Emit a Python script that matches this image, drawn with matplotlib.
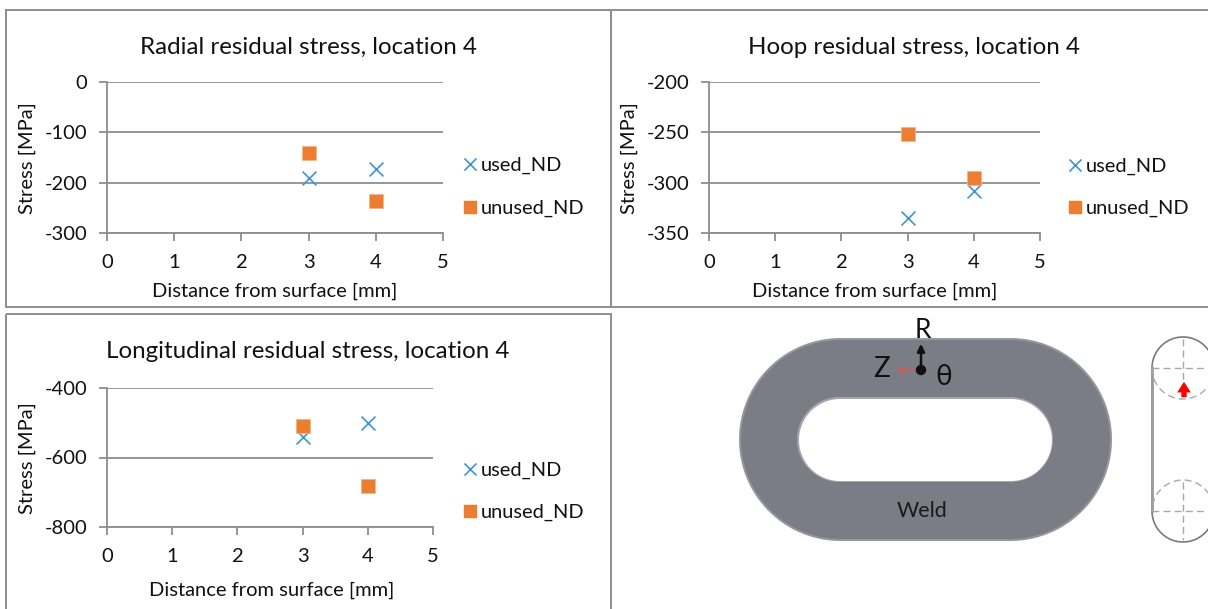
#!/usr/bin/env python

import matplotlib
matplotlib.use("Agg")
import matplotlib.pyplot as plt
import numpy as np
from matplotlib.patches import Polygon, Rectangle, Circle

plt.rcParams['font.family'] = ['Lato', 'DejaVu Sans']
plt.rcParams['axes.unicode_minus'] = False

W, H = 1208, 609
GREY = '#8e8e8e'
BLUE = '#3f94d2'
ORANGE = '#ed7d31'

distance = [3, 4]

radial_used = [-190, -172]
radial_unused = [-142, -237]
radial_ticks = [0, -100, -200, -300]

hoop_used = [-335, -308]
hoop_unused = [-252, -295]
hoop_ticks = [-200, -250, -300, -350]

long_used = [-540, -500]
long_unused = [-510, -683]
long_ticks = [-400, -600, -800]

x_ticks = [0, 1, 2, 3, 4, 5]
series_names = ['used_ND', 'unused_ND']


def make_axes(left, right, top, bottom):
    # pixel box to figure fractions
    return fig.add_axes([left / W, 1 - bottom / H, (right - left) / W, (bottom - top) / H])


def panel(box, used, unused, yticks, title, title_xy, ylabel_x, xlabel_xy, legend_x, legend_y):
    ax = make_axes(*box)
    ax.set_xlim(0, 5)
    ax.set_ylim(yticks[-1], yticks[0])
    ax.set_xticks(x_ticks)
    ax.set_yticks(yticks)
    ax.grid(True, axis='y', color=GREY, lw=1.3)
    ax.set_axisbelow(True)
    for side in ['top', 'right']:
        ax.spines[side].set_visible(False)
    for side in ['left', 'bottom']:
        ax.spines[side].set_color(GREY)
        ax.spines[side].set_linewidth(1.3)
    ax.tick_params(colors='#111111', color=GREY, width=1.3, length=6, labelsize=14.5)
    ax.tick_params(axis='x', pad=9)
    ax.tick_params(axis='y', pad=8)

    ax.scatter(distance, used, marker='x', s=100, color=BLUE, linewidth=1.2, zorder=3, clip_on=False)
    ax.scatter(distance, unused, marker='s', s=100, color=ORANGE, edgecolor='#f6b48a',
               linewidth=0.6, zorder=3, clip_on=False)

    bg.text(title_xy[0], title_xy[1], title, fontsize=17.4, ha='center', va='center', color='#111111')
    bg.text(ylabel_x, (box[2] + box[3]) / 2 + 1, 'Stress [MPa]', fontsize=14.5, rotation=90,
            ha='center', va='center', color='#111111')
    bg.text(xlabel_xy[0], xlabel_xy[1], 'Distance from surface [mm]', fontsize=14.5,
            ha='center', va='center', color='#111111')

    bg.scatter([legend_x], [legend_y[0]], marker='x', s=75, color=BLUE, linewidth=1.2)
    bg.scatter([legend_x], [legend_y[1]], marker='s', s=72, color=ORANGE)
    for name, y in zip(series_names, legend_y):
        bg.text(legend_x + 11, y + 1, name, fontsize=14.4, ha='left', va='center', color='#111111')


fig = plt.figure(figsize=(W / 100, H / 100), dpi=100)

# background layer in image pixels, holds frames, labels and the weld drawing
bg = fig.add_axes([0, 0, 1, 1])
bg.set_xlim(0, W)
bg.set_ylim(H, 0)
bg.axis('off')

for x0, y0, x1, y1 in [(6, 10, 611, 307), (611, 10, 1220, 307), (6, 314, 611, 620)]:
    bg.add_patch(Rectangle((x0, y0), x1 - x0, y1 - y0, fill=False, edgecolor=GREY, lw=1.4))

panel((107, 443, 82, 233), radial_used, radial_unused, radial_ticks,
      'Radial residual stress, location 4', (308, 47), 27, (275, 291), 470, (164, 207))
panel((709, 1040, 82, 233), hoop_used, hoop_unused, hoop_ticks,
      'Hoop residual stress, location 4', (914, 47), 629, (875, 291), 1075, (165, 207))
panel((107, 433, 388, 527), long_used, long_unused, long_ticks,
      'Longitudinal residual stress, location 4', (308, 351), 27, (272, 590), 470, (469, 511))


def stadium(x0, y0, x1, y1, **kw):
    # pill outline with true half circles, along the longer side of the box
    r = min(x1 - x0, y1 - y0) / 2
    t = np.linspace(0, np.pi, 60)
    if x1 - x0 >= y1 - y0:
        xs = np.r_[x1 - r + r * np.sin(t), x0 + r - r * np.sin(t)]
        ys = np.r_[y0 + r - r * np.cos(t), y1 - r + r * np.cos(t)]
    else:
        xs = np.r_[x0 + r - r * np.cos(t), x1 - r + r * np.cos(t)]
        ys = np.r_[y0 + r - r * np.sin(t), y1 - r + r * np.sin(t)]
    bg.add_patch(Polygon(np.c_[xs, ys], closed=True, **kw))


# weld ring
stadium(739, 338, 1112, 541, facecolor='#95969e', edgecolor='none')
stadium(741, 340, 1110, 539, facecolor='#7b7d86', edgecolor='none')
stadium(797, 397, 1053, 482, facecolor='#a5a6ac', edgecolor='none')
stadium(799, 399, 1052, 481, facecolor='white', edgecolor='none')

# coordinate marker on the weld
bg.annotate('', xy=(921, 341), xytext=(921, 371),
            arrowprops=dict(arrowstyle='-|>', color='#111111', lw=1.8, mutation_scale=11))
bg.annotate('', xy=(893, 370), xytext=(921, 370),
            arrowprops=dict(arrowstyle='-|>', color='#c9605c', lw=1.5, mutation_scale=9))
bg.add_patch(Circle((921, 370), 4.5, color='#111111', zorder=5))
bg.text(923, 331, 'R', fontsize=19, ha='center', va='center', color='#111111')
bg.text(882, 369, 'Z', fontsize=20, ha='center', va='center', color='#111111')
bg.text(944, 377, 'θ', fontsize=20, ha='center', va='center', color='#111111')
bg.text(922, 511, 'Weld', fontsize=15.5, ha='center', va='center', color='#1a1a1a')

# side view, cut by the image edge
stadium(1152, 337, 1214, 542, facecolor='white', edgecolor='#7a7a7a', lw=1.2)
bg.plot([1152, 1152], [368, 511], color='#9a9a9a', lw=2)
for cy, start, end in [(368, 180, 360), (511, 0, 180)]:
    # only the inner half of each circle is dashed, the outer half is the outline
    a = np.radians(np.linspace(start, end, 60))
    bg.plot(1183 + 31 * np.cos(a), cy - 31 * np.sin(a), color='#a8a8a8', lw=1, ls=(0, (5, 3)))
    bg.plot([1152, 1208], [cy, cy], color='#a8a8a8', lw=1, ls=(0, (5, 3)))
    bg.plot([1183, 1183], [cy - 29, cy + 29], color='#a8a8a8', lw=1, ls=(0, (5, 3)))
bg.annotate('', xy=(1184, 379), xytext=(1184, 400),
            arrowprops=dict(arrowstyle='simple,head_width=0.9,head_length=0.7,tail_width=0.35',
                            color='#ff0000', lw=0, mutation_scale=11))

fig.savefig('out.png', dpi=100)
